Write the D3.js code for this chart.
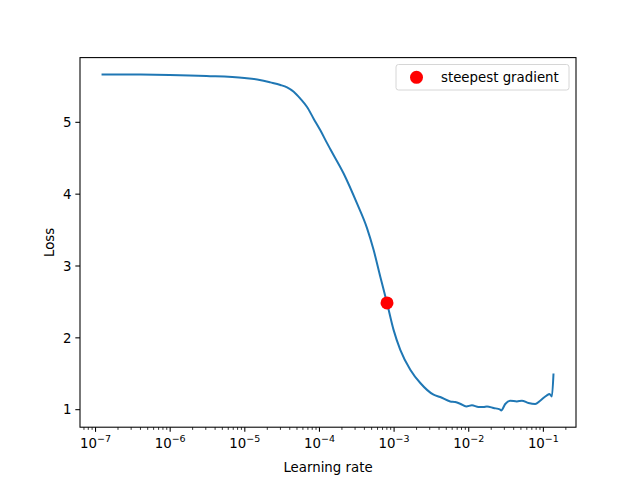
<!DOCTYPE html>
<html>
<head>
<meta charset="utf-8">
<style>
  body { margin: 0; background: #fff; }
  text { font-family: "DejaVu Sans", sans-serif; fill: #000; }
</style>
</head>
<body>
    <svg id="chart"></svg>

    <script src="https://cdn.jsdelivr.net/npm/d3@7"></script>
    <script type="text/javascript">
        // values (log10 of learning rate, loss)
        lrLog = [-6.906, -6.531, -6.009, -5.514, -5.005, -4.800, -4.657, -4.523, -4.434,
                 -4.345, -4.256, -4.166, -4.078, -3.988, -3.898, -3.854, -3.676, -3.497, -3.363,
                 -3.274, -3.185, -3.095, -3.007, -2.917, -2.783, -2.649, -2.471, -2.382, -2.248,
                 -2.181, -2.114, -2.033, -1.957, -1.869, -1.802, -1.756, -1.668, -1.578, -1.565,
                 -1.511, -1.444, -1.355, -1.288, -1.200, -1.110, -1.043, -0.953, -0.918, -0.886,
                 -0.865]
        loss = [5.667, 5.666, 5.660, 5.645, 5.617, 5.590, 5.556, 5.520, 5.486,
                5.425, 5.329, 5.213, 5.051, 4.889, 4.710, 4.625, 4.288, 3.871, 3.528,
                3.222, 2.851, 2.486, 2.111, 1.833, 1.556, 1.371, 1.208, 1.176, 1.115,
                1.107, 1.083, 1.046, 1.060, 1.038, 1.038, 1.046, 1.024, 1.000, 0.990,
                1.079, 1.125, 1.115, 1.125, 1.093, 1.079, 1.125, 1.199, 1.218, 1.185,
                1.490]
        steepest = [{ lr: Math.pow(10, -3.095), loss: 2.486 }]
        xTicks = [1e-7, 1e-6, 1e-5, 1e-4, 1e-3, 1e-2, 1e-1]
        xTickExp = ['\u22127', '\u22126', '\u22125', '\u22124', '\u22123', '\u22122', '\u22121']
        yTicks = [1, 2, 3, 4, 5]

        data = lrLog.map(function(d, i) { return { lr: Math.pow(10, d), loss: loss[i] } })

        width = 640
        height = 480
        // plot box (names avoid window.top etc.)
        pL = 80, pR = 576, pT = 57.6, pB = 427.2

        svg = d3.select('#chart')
                .attr('width', width)
                .attr('height', height)

        // matplotlib style 5% margins
        lx = d3.extent(lrLog)
        padX = (lx[1] - lx[0]) * 0.05
        ly = d3.extent(loss)
        padY = (ly[1] - ly[0]) * 0.05

        x = d3.scaleLog()
              .domain([Math.pow(10, lx[0] - padX), Math.pow(10, lx[1] + padX)])
              .range([pL, pR])
        y = d3.scaleLinear()
              .domain([ly[0] - padY, ly[1] + padY])
              .range([pB, pT])

        // minor ticks on log axis
        minor = []
        for (e = -8; e <= 0; e++) {
            for (m = 2; m <= 9; m++) {
                v = m * Math.pow(10, e)
                if (v >= x.domain()[0] && v <= x.domain()[1]) minor.push(v)
            }
        }

        xAxis = svg.append('g')
                   .attr('transform', 'translate(0,' + pB + ')')
        xAxis.selectAll('line.minor')
             .data(minor)
             .enter()
             .append('line')
             .attr('x1', function(d) { return x(d) })
             .attr('x2', function(d) { return x(d) })
             .attr('y1', 0)
             .attr('y2', 2.67)
             .style('stroke', '#000')
             .style('stroke-width', 0.8)
        xAxis.selectAll('line.major')
             .data(xTicks)
             .enter()
             .append('line')
             .attr('x1', function(d) { return x(d) })
             .attr('x2', function(d) { return x(d) })
             .attr('y1', 0)
             .attr('y2', 4.67)
             .style('stroke', '#000')
             .style('stroke-width', 1.07)
        lbl = xAxis.selectAll('text.tick')
             .data(xTicks)
             .enter()
             .append('text')
             .attr('x', function(d) { return x(d) })
             .attr('y', 20.5)
             .attr('text-anchor', 'middle')
             .style('font-size', '13.33px')
        lbl.append('tspan').text('10')
        lbl.append('tspan')
           .attr('dy', -5.5)
           .style('font-size', '9.5px')
           .text(function(d, i) { return xTickExp[i] })

        svg.append('text')
           .attr('x', (pL + pR) / 2)
           .attr('y', 472)
           .attr('text-anchor', 'middle')
           .style('font-size', '13.33px')
           .text('Learning rate')

        yAxis = svg.append('g')
        yAxis.selectAll('line')
             .data(yTicks)
             .enter()
             .append('line')
             .attr('x1', pL - 4.67)
             .attr('x2', pL)
             .attr('y1', function(d) { return y(d) })
             .attr('y2', function(d) { return y(d) })
             .style('stroke', '#000')
             .style('stroke-width', 1.07)
        yAxis.selectAll('text')
             .data(yTicks)
             .enter()
             .append('text')
             .attr('x', pL - 8.5)
             .attr('y', function(d) { return y(d) })
             .attr('dy', '0.36em')
             .attr('text-anchor', 'end')
             .style('font-size', '13.33px')
             .text(function(d) { return d })

        svg.append('text')
           .attr('transform', 'translate(54,' + (pT + pB) / 2 + ') rotate(-90)')
           .attr('text-anchor', 'middle')
           .style('font-size', '13.33px')
           .text('Loss')

        line = d3.line()
                 .curve(d3.curveMonotoneX)
                 .x(function(d) { return x(d.lr) })
                 .y(function(d) { return y(d.loss) })

        svg.append('path')
           .datum(data)
           .attr('d', line)
           .style('fill', 'none')
           .style('stroke', '#1f77b4')
           .style('stroke-width', 2)
           .style('stroke-linejoin', 'round')
           .style('stroke-linecap', 'square')

        svg.selectAll('circle.steep')
           .data(steepest)
           .enter()
           .append('circle')
           .attr('cx', function(d) { return x(d.lr) })
           .attr('cy', function(d) { return y(d.loss) })
           .attr('r', 6.5)
           .style('fill', 'red')

        // frame
        svg.append('rect')
           .attr('x', pL)
           .attr('y', pT)
           .attr('width', pR - pL)
           .attr('height', pB - pT)
           .style('fill', 'none')
           .style('stroke', '#000')
           .style('stroke-width', 1.07)

        // legend
        legend = svg.append('g')
        legend.append('rect')
              .attr('x', 396)
              .attr('y', 64.5)
              .attr('width', 173)
              .attr('height', 25.5)
              .attr('rx', 2.5)
              .style('fill', '#fff')
              .style('fill-opacity', 0.8)
              .style('stroke', '#d6d6d6')
              .style('stroke-width', 1)
        legend.append('circle')
              .attr('cx', 416.5)
              .attr('cy', 77.3)
              .attr('r', 6.5)
              .style('fill', 'red')
        legend.append('text')
              .attr('x', 441)
              .attr('y', 77.3)
              .attr('dy', '0.36em')
              .style('font-size', '13.33px')
              .text('steepest gradient')
    </script>
</body>
</html>
